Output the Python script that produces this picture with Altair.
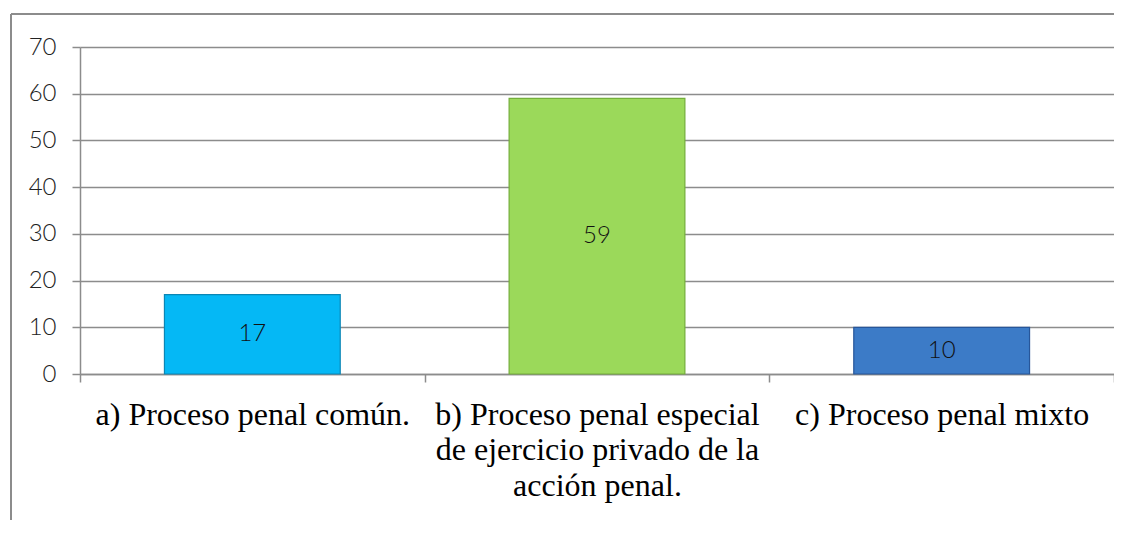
import altair as alt
import pandas as pd

categories = [
    "a) Proceso penal común.",
    "b) Proceso penal especial|de ejercicio privado de la|acción penal.",
    "c) Proceso penal mixto",
]
values = [17, 59, 10]
bar_colors = ["#05B8F5", "#9BD95A", "#3C7BC7"]
edge_colors = ["#0B86B5", "#74AE3A", "#27569A"]

df = pd.DataFrame({"cat": categories, "value": values})

x_enc = alt.X(
    "cat:N",
    sort=categories,
    scale=alt.Scale(paddingInner=0, paddingOuter=0),
    axis=alt.Axis(
        title=None,
        labelAngle=0,
        labelExpr="isValid(datum.value) ? split(datum.value, '|') : ''",
        labelFont="Liberation Serif",
        labelFontSize=32,
        labelLineHeight=35.5,
        labelColor="#000000",
        labelPadding=17,
        labelLimit=0,
        labelOverlap=False,
        labelBound=False,
        tickBand="extent",
        tickSize=8,
        tickColor="#8C8C8C",
        tickWidth=1.5,
        domainColor="#8C8C8C",
        domainWidth=1.5,
        grid=False,
    ),
)

bars = alt.Chart(df).mark_bar(width={"band": 0.51}, strokeWidth=1.2).encode(
    x=x_enc,
    y=alt.Y(
        "value:Q",
        scale=alt.Scale(domain=[0, 70]),
        axis=alt.Axis(
            title=None,
            values=[0, 10, 20, 30, 40, 50, 60, 70],
            labelFont="Lato",
            labelFontWeight=300,
            labelFontSize=24,
            labelColor="#222222",
            labelPadding=16,
            tickSize=8,
            tickColor="#8C8C8C",
            tickWidth=1.5,
            domainColor="#8C8C8C",
            domainWidth=1.5,
            grid=True,
            gridColor="#8C8C8C",
            gridWidth=1.4,
        ),
    ),
    color=alt.Color("cat:N", scale=alt.Scale(domain=categories, range=bar_colors), legend=None),
    stroke=alt.Stroke("cat:N", scale=alt.Scale(domain=categories, range=edge_colors), legend=None),
)

labels = alt.Chart(df).transform_calculate(half="datum.value / 2").mark_text(
    font="Lato", fontWeight=300, fontSize=24, color="#111111", baseline="middle", align="center"
).encode(
    x=alt.X("cat:N", sort=categories),
    y=alt.Y("half:Q"),
    text=alt.Text("value:Q"),
)

frame_src = alt.Data(values=[{"f": 1}])
frame_top = alt.Chart(frame_src).mark_rule(color="#8C8C8C", strokeWidth=2).encode(
    x=alt.value(-69), x2=alt.value(1100), y=alt.value(-33)
)
frame_left = alt.Chart(frame_src).mark_rule(color="#8C8C8C", strokeWidth=2).encode(
    x=alt.value(-69), y=alt.value(-33), y2=alt.value(700)
)

chart = alt.layer(frame_top, frame_left, bars, labels).properties(
    width=1034,
    height=327,
    padding={"left": 72, "top": 39, "right": 0, "bottom": 146},
    autosize=alt.AutoSizeParams(type="none"),
).configure_view(stroke="transparent", strokeWidth=0)

chart.save("out.html", embed_options={"renderer": "svg", "actions": False})
